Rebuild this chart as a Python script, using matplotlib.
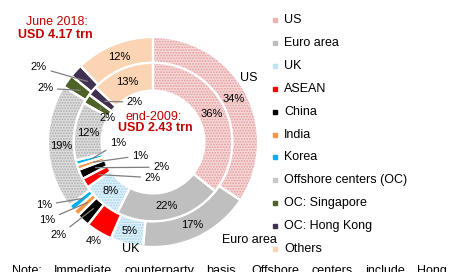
import matplotlib
matplotlib.use("Agg")
import matplotlib.pyplot as plt
import numpy as np
from matplotlib.patches import Rectangle

plt.rcParams["font.family"] = ["Liberation Sans", "DejaVu Sans"]
plt.rcParams["hatch.linewidth"] = 0.9

names = ["US", "Euro area", "UK", "ASEAN", "China", "India", "Korea",
         "Offshore centers (OC)", "OC: Singapore", "OC: Hong Kong", "Others"]
share_2018 = [34, 17, 5, 4, 2, 1, 1, 19, 2, 2, 12]
share_2009 = [36, 22, 8, 2, 2, 1, 1, 12, 2, 2, 13]

face = ["#F6D8D8", "#BFBFBF", "#E0F1FA", "#FF0000", "#000000", "#F79646",
        "#00B0F0", "#DEDEDE", "#4F6228", "#403151", "#FBD4B4"]
hatch_col = ["#E39C9C", None, "#A3D3EC", None, None, None, None, "#ABABAB", None, None, None]
legend_col = ["#EDB3B3", "#BFBFBF", "#BFE3F3", "#FF0000", "#000000", "#F79646",
              "#00B0F0", "#C8C8C8", "#4F6228", "#403151", "#FBD4B4"]

W, H = 450, 272
fig = plt.figure(figsize=(W / 100, H / 100), dpi=100)

# donut centre (153,142) px, radius 105 px
cx, cy, R = 153, 142, 105
ax = fig.add_axes([(cx - R) / W, (H - cy - R) / H, 2 * R / W, 2 * R / H])


def ring(values, radius, width):
    wedges, _ = ax.pie(values, radius=radius, startangle=90, counterclock=False,
                       colors=face, wedgeprops=dict(width=width, linewidth=0))
    for w, hc in zip(wedges, hatch_col):
        if hc:
            w.set_hatch("......")
            w.set_edgecolor(hc)
            w.set_linewidth(0)
    ax.pie(values, radius=radius, startangle=90, counterclock=False,
           wedgeprops=dict(width=width, facecolor="none", edgecolor="white", linewidth=1.6))
    return wedges


outer = ring(share_2018, 1.0, 0.245)
inner = ring(share_2009, 0.755, 0.265)
ax.set_xlim(-1, 1)
ax.set_ylim(-1, 1)
ax.axis("off")


def mid(w):
    a = np.deg2rad((w.theta1 + w.theta2) / 2)
    return np.cos(a), np.sin(a)


line_kw = dict(arrowstyle="-", color="#7F7F7F", lw=0.9, shrinkA=1, shrinkB=0)

# label positions for small slices (text anchor in data units)
outer_leader = {4: (-0.82, -0.89, "right"), 5: (-0.93, -0.74, "right"),
                6: (-0.96, -0.60, "right"), 8: (-0.95, 0.51, "right"),
                9: (-1.01, 0.71, "right")}
inner_leader = {3: (-0.08, -0.34, "left"), 4: (0.0, -0.24, "left"),
                5: (-0.20, -0.13, "left"), 6: (-0.41, -0.01, "left"),
                8: (-0.43, 0.23, "center"), 9: (-0.25, 0.38, "left")}

for i, (w, v) in enumerate(zip(outer, share_2018)):
    c, s = mid(w)
    if i in outer_leader:
        tx, ty, ha = outer_leader[i]
        ax.annotate(f"{v}%", xy=(0.85 * c, 0.85 * s), xytext=(tx, ty), ha=ha, va="center",
                    fontsize=8, arrowprops=line_kw, annotation_clip=False)
    elif i == 3:
        ax.text(1.1 * c, 1.1 * s, f"{v}%", ha="center", va="center", fontsize=8)
    else:
        ax.text(0.875 * c, 0.875 * s, f"{v}%", ha="center", va="center", fontsize=8)

for i, (w, v) in enumerate(zip(inner, share_2009)):
    c, s = mid(w)
    if i in inner_leader:
        tx, ty, ha = inner_leader[i]
        ax.annotate(f"{v}%", xy=(0.6 * c, 0.6 * s), xytext=(tx, ty), ha=ha, va="center",
                    fontsize=8, arrowprops=line_kw, annotation_clip=False)
    else:
        ax.text(0.62 * c, 0.62 * s, f"{v}%", ha="center", va="center", fontsize=8)

# series name labels
ax.text(0.91, 0.61, "US", ha="center", va="center", fontsize=9)
ax.text(0.92, -0.93, "Euro area", ha="center", va="center", fontsize=9)
ax.text(-0.21, -1.02, "UK", ha="center", va="center", fontsize=9)

red = "#C00000"
ax.text(-0.92, 1.14, "June 2018:", ha="center", va="center", fontsize=9, color=red)
ax.text(-0.93, 1.02, "USD 4.17 trn", ha="center", va="center", fontsize=9,
        color=red, fontweight="bold")
ax.text(0.01, 0.24, "end-2009:", ha="center", va="center", fontsize=9, color=red)
ax.text(0.02, 0.13, "USD 2.43 trn", ha="center", va="center", fontsize=9,
        color=red, fontweight="bold")

# legend
for k, (name, col) in enumerate(zip(names, legend_col)):
    y = 20 + 22.9 * k
    fig.add_artist(Rectangle(((275 - 2) / W, (H - y - 2) / H), 4 / W, 4 / H,
                             transform=fig.transFigure, color=col))
    fig.text(284 / W, (H - y) / H, name, ha="left", va="center", fontsize=9)

# cut-off title above
fig.text(219 / W, (H + 4) / H, "y", ha="center", va="baseline", fontsize=9)

# justified note at the bottom (cut off)
words = "Note: Immediate counterparty basis. Offshore centers include Hong".split()
renderer = fig.canvas.get_renderer()
texts = [fig.text(0, (H - 274) / H, wd, fontsize=9, va="baseline") for wd in words]
widths = [t.get_window_extent(renderer).width for t in texts]
x0, x1 = 12, 447
gap = (x1 - x0 - sum(widths)) / (len(words) - 1)
x = x0
for t, wd in zip(texts, widths):
    t.set_x(x / W)
    x += wd + gap

fig.savefig("out.png", dpi=100)
